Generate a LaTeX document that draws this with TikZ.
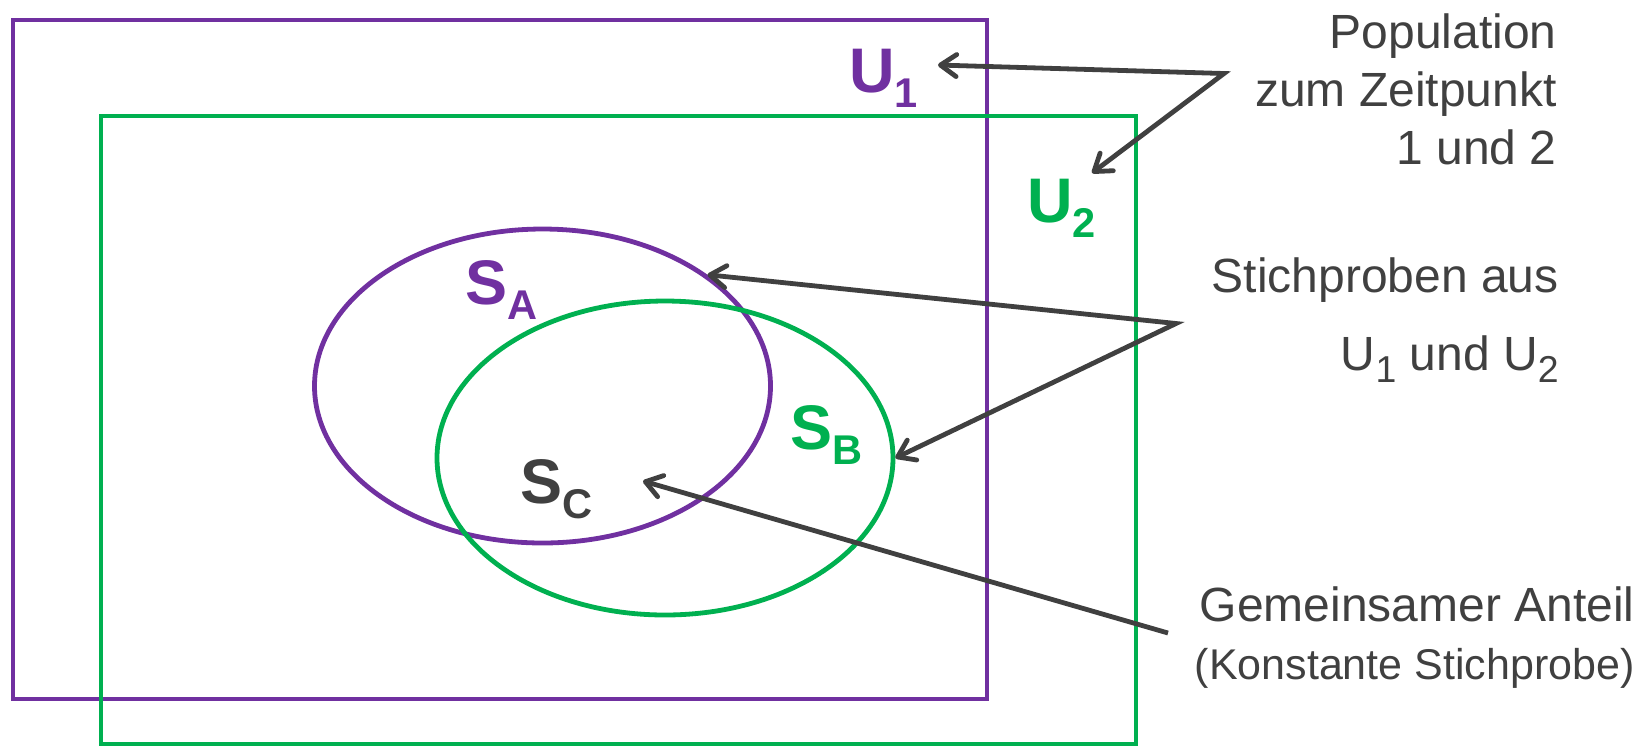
\documentclass[tikz,border=0pt]{standalone}
\usepackage{fontspec}
\setmainfont{Liberation Sans}
\usetikzlibrary{arrows.meta, shapes.geometric}
\definecolor{upurple}{HTML}{7030A0}
\definecolor{ugreen}{HTML}{00B050}
\definecolor{dgray}{HTML}{404040}
\newcommand{\idx}[2][0.66]{\raisebox{-0.24em}{\scalebox{#1}{#2}}}
\tikzset{
	setlabel/.style={
			font=\fontsize{31.5}{36}\selectfont\bfseries,
			inner sep=0pt,
			anchor=base west
		},
	sample/.style={
			ellipse,
			line width=2.4pt,
			minimum width=228pt,
			minimum height=157pt,
			inner sep=0pt
		},
	note/.style={
			font=\fontsize{24}{29}\selectfont,
			text=dgray,
			align=right,
			inner sep=0pt,
			anchor=east
		},
	pointer/.style={
			draw=dgray,
			line width=2.4pt,
			line join=miter
		}
}

\begin{document}
\begin{tikzpicture}[x=0.5pt, y=-0.5pt, >={Straight Barb[length=8pt,width=11pt,round]}]
\useasboundingbox (0,0) rectangle (1647,746);
% populations
\draw[upurple, line width=2.4pt] (13,20) rectangle (987,699);
\draw[ugreen, line width=2.4pt] (101,116) rectangle (1136,744);
\node[setlabel, text=upurple] (U1) at (849,92) {U\idx{1}};
\node[setlabel, text=ugreen] (U2) at (1027,222) {U\idx{2}};

% samples
\node[sample, draw=upurple] (SA) at (542.5,386) {};
\node[sample, draw=ugreen] (SB) at (665,458) {};
\node[setlabel, text=upurple] (SAl) at (465,304) {S\idx{A}};
\node[setlabel, text=ugreen] (SBl) at (790,449) {S\idx{B}};
\node[setlabel, text=dgray] (SCl) at (520,503) {S\idx{C}};

% notes
\node[note] (pop) at (1557,89) {Population\\zum Zeitpunkt\\1 und 2};
\node[note] (stich) at (1559,320) {Stichproben aus\\[10pt]U\idx[0.78]{1} und U\idx[0.78]{2}};
\node[note] (common) at (1635,638) {Gemeinsamer Anteil\\{\fontsize{21.5}{26}\selectfont(Konstante Stichprobe)}};

\coordinate (popj) at (1224,73.5);
\coordinate (U1tip) at (938,65);
\coordinate (U2tip) at (1092,173);
\coordinate (stichj) at (1176,323.5);
\coordinate (commonj) at (1168,633);
\coordinate (SCtip) at (643,481);

\draw[pointer, <->] (U1tip) -- (popj) -- (U2tip);
\draw[pointer, <->] (SA.34) -- (stichj) -- (SB.east);
\draw[pointer, ->] (commonj) -- (SCtip);
\end{tikzpicture}
\end{document}
